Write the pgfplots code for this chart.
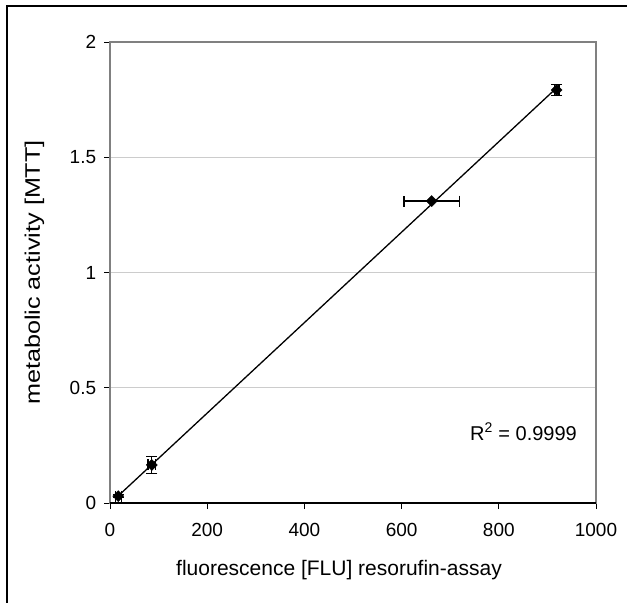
\documentclass[border=0pt]{standalone}
\usepackage{fontspec}
\setmainfont{Liberation Sans}
\usepackage{graphicx}
\usepackage{pgfplots}
\pgfplotsset{compat=1.18}
\begin{document}
\fontsize{17bp}{20bp}\selectfont
\begin{tikzpicture}
\useasboundingbox (-110bp,-100bp) rectangle (517bp,503bp);
\draw[line width=1.6bp] (-103bp,-100bp) -- (-103bp,497bp) -- (517bp,497bp);
\begin{axis}[
  at={(0bp,0bp)}, anchor=origin,
  scale only axis, width=486bp, height=461bp,
  xmin=0, xmax=1000, ymin=0, ymax=2,
  xtick={0,200,...,1000}, ytick={0,0.5,...,2},
  /pgf/number format/1000 sep={},
  /pgf/number format/assume math mode=true,
  tick align=outside, tick pos=left,
  major tick length=6bp,
  tick style={black, line width=0.8bp},
  axis line style={draw=gray, line width=1.4bp},
  ymajorgrids, grid style={gray!40, line width=0.8bp},
  ticklabel style={font=\fontsize{19bp}{22bp}\selectfont},
  xticklabel style={yshift=-8bp},
  yticklabel style={xshift=-2bp},
  xlabel={fluorescence [FLU] resorufin-assay},
  ylabel={\scalebox{1.2}[1]{metabolic activity [MTT]}},
  label style={font=\fontsize{21bp}{24bp}\selectfont},
  xlabel style={yshift=-12bp, xshift=-14bp},
  ylabel style={yshift=14bp},
  clip=false,
]
\addplot[black, line width=1.3bp, no marks] coordinates {(17,0.031) (919,1.801)};
\addplot[only marks, black, mark=square*, mark size=3.9bp, mark options={rotate=45, fill=black},
  error bars/.cd, x dir=both, x explicit, y dir=both, y explicit,
  error bar style={black, line width=1.3bp},
  error mark options={rotate=90, black, mark size=5.5bp, line width=1.3bp}]
  coordinates {
  (17,0.03) +- (6,0.006)
  (86,0.165) +- (8,0.036)
  (662,1.31) +- (57,0.003)
  (919,1.792) +- (5,0.025)
  };
\draw[black, line width=1.4bp] (rel axis cs:0,0) -- (rel axis cs:1,0);
\node[anchor=base east, inner sep=0pt, font=\fontsize{20bp}{23bp}\selectfont] at (axis cs:961,0.273) {R\textsuperscript{2} = 0.9999};
\end{axis}
\end{tikzpicture}
\end{document}
